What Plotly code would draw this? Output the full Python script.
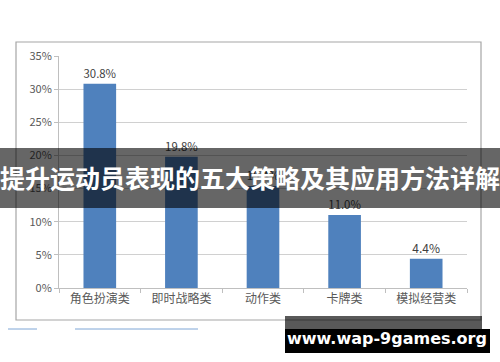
import plotly.graph_objects as go

categories = ["角色扮演类", "即时战略类", "动作类", "卡牌类", "模拟经营类"]
values = [30.8, 19.8, 15.4, 11.0, 4.4]
value_labels = ["30.8%", "19.8%", "15.4%", "11.0%", "4.4%"]
y_ticks = [0, 5, 10, 15, 20, 25, 30, 35]
y_tick_labels = ["0%", "5%", "10%", "15%", "20%", "25%", "30%", "35%"]
banner_text = "提升运动员表现的五大策略及其应用方法详解"
watermark_text = "www.wap-9games.org"

W, H = 500, 362
ML, MR, MT, MB = 59, 33, 56, 74
PW = W - ML - MR
PH = H - MT - MB


def px(x):
    return (x - ML) / PW


def py(y):
    return (H - MB - y) / PH


CJK = "Noto Sans CJK SC"
fig = go.Figure()
fig.add_trace(go.Bar(
    x=categories, y=values,
    marker=dict(color="#4f81bd", line=dict(width=0)),
    width=0.4,
    text=value_labels, textposition="outside", cliponaxis=False,
    textfont=dict(family=CJK, size=12, color="#404040"),
))

shapes = [
    # chart frame
    dict(type="rect", xref="paper", yref="paper", x0=px(16), x1=px(481), y0=py(42), y1=py(320),
         line=dict(color="#a6a6a6", width=1.2), fillcolor="rgba(0,0,0,0)", layer="below"),
    # cropped legend fragments
    dict(type="line", xref="paper", yref="paper", x0=px(8), x1=px(37), y0=py(329), y1=py(329),
         line=dict(color="#7fa6d6", width=1)),
    dict(type="line", xref="paper", yref="paper", x0=px(75), x1=px(198), y0=py(329), y1=py(329),
         line=dict(color="#7fa6d6", width=1)),
    # banner
    dict(type="rect", xref="paper", yref="paper", x0=px(0), x1=px(500), y0=py(148), y1=py(208),
         line=dict(width=0), fillcolor="rgba(0,0,0,0.6)", layer="above"),
    # watermark boxes
    dict(type="rect", xref="paper", yref="paper", x0=px(285), x1=px(482), y0=py(316), y1=py(329),
         line=dict(width=0), fillcolor="rgba(0,0,0,0.65)", layer="above"),
    dict(type="rect", xref="paper", yref="paper", x0=px(285), x1=px(490), y0=py(329), y1=py(353),
         line=dict(width=0), fillcolor="#000000", layer="above"),
]

annotations = [
    dict(text=banner_text, xref="paper", yref="paper", x=px(250), y=py(177),
         showarrow=False, xanchor="center", yanchor="middle",
         font=dict(family=CJK, size=25, color="white", weight=700)),
    dict(text=watermark_text, xref="paper", yref="paper", x=px(387), y=py(338),
         showarrow=False, xanchor="center", yanchor="middle",
         font=dict(family="DejaVu Sans", size=16, color="white", weight=700)),
]

fig.update_layout(
    width=W, height=H,
    margin=dict(l=ML, r=MR, t=MT, b=MB, pad=0),
    paper_bgcolor="white", plot_bgcolor="white",
    showlegend=False,
    shapes=shapes, annotations=annotations,
    font=dict(family=CJK, color="#595959"),
    xaxis=dict(
        showline=True, linecolor="#bfbfbf", linewidth=1,
        ticks="outside", tickson="boundaries", ticklen=4, tickcolor="#bfbfbf",
        tickfont=dict(family=CJK, size=12, color="#595959"),
        showgrid=False, fixedrange=True,
    ),
    yaxis=dict(
        range=[0, 35], tickvals=y_ticks, ticktext=y_tick_labels,
        showline=True, linecolor="#bfbfbf", linewidth=1,
        ticks="outside", ticklen=4, tickcolor="#bfbfbf",
        showgrid=True, gridcolor="#d0d0d0", gridwidth=1,
        zeroline=False,
        tickfont=dict(family=CJK, size=11, color="#595959"),
        fixedrange=True,
    ),
)

fig.write_html("out.html")
